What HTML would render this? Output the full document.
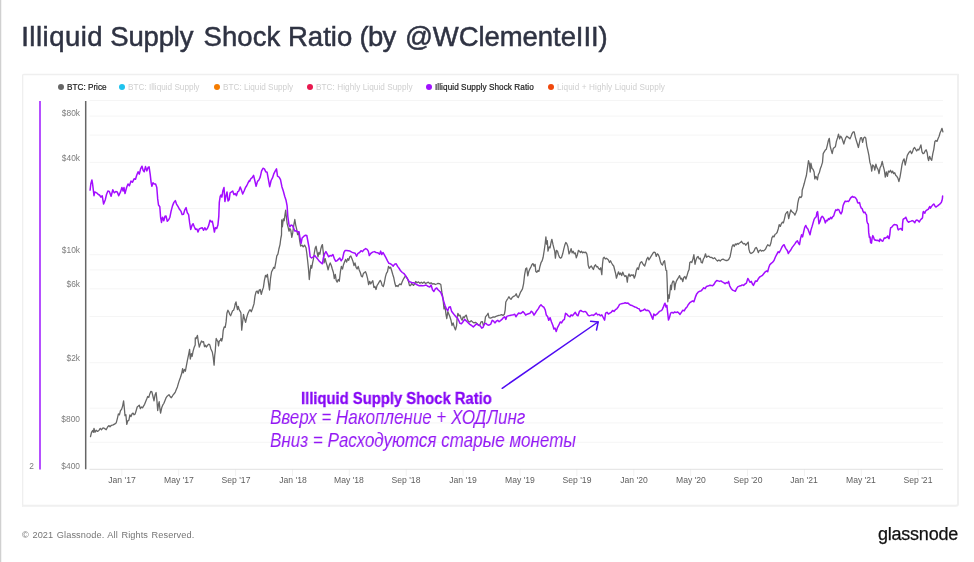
<!DOCTYPE html>
<html><head><meta charset="utf-8"><title>Illiquid Supply Shock Ratio</title>
<style>
html,body{margin:0;padding:0;background:#fff;}
body{width:974px;height:562px;position:relative;overflow:hidden;font-family:"Liberation Sans",sans-serif;}
.edge{position:absolute;left:0;top:0;width:2px;height:562px;background:linear-gradient(to right,#d0d0d0 0,#d0d0d0 1px,#f3f3f3 1px,#f3f3f3 2px);}
.title{position:absolute;left:22px;top:17px;font-size:27.5px;line-height:40px;color:#2f3343;white-space:nowrap;-webkit-text-stroke:0.5px #2f3343;}
.title span{position:absolute;top:0;}
.legend span{position:absolute;top:81.5px;font-size:8.2px;line-height:11px;white-space:nowrap;color:#cfcfcf;}
.legend span.on{color:#222;-webkit-text-stroke:0.2px #222;}
.legend i{position:absolute;top:84px;width:6px;height:6px;border-radius:50%;}
.yl{position:absolute;font-size:8.4px;line-height:10px;color:#7c7c7c;text-align:right;width:40px;left:39.8px;}
.xl{position:absolute;font-size:8.6px;line-height:10px;color:#5e5e5e;text-align:center;width:50px;top:474.9px;white-space:nowrap;}
.foot{position:absolute;left:22px;top:528.8px;font-size:9.2px;line-height:12px;color:#757575;letter-spacing:0.1px;word-spacing:0.9px;white-space:nowrap;}
.logo{position:absolute;left:878px;top:523.5px;font-size:18px;line-height:20px;color:#111;letter-spacing:-0.23px;white-space:nowrap;-webkit-text-stroke:0.25px #111;}
.a1{position:absolute;left:300.7px;top:388.9px;font-size:16px;line-height:20px;font-weight:bold;color:#8505f5;-webkit-text-stroke:0.3px #8505f5;white-space:nowrap;transform-origin:left top;transform:scaleX(0.925);}
.a2,.a3{position:absolute;left:270.2px;font-size:21px;line-height:24px;font-style:italic;color:#9317f4;white-space:nowrap;transform-origin:left top;}
.a2{top:404.65px;transform:scaleX(0.8085);} .a3{top:428px;transform:scaleX(0.811);}
svg{position:absolute;left:0;top:0;}
.title,.legend span,.yl,.xl,.foot,.logo,.a1,.a2,.a3{will-change:transform;}
</style></head><body>
<div class="edge"></div>
<div class="title"><span style="left:-0.8px;letter-spacing:0.5px">Illiquid</span><span style="left:88.3px;letter-spacing:-0.2px">Supply</span><span style="left:181.5px;letter-spacing:0.1px">Shock</span><span style="left:266px;letter-spacing:0px">Ratio</span><span style="left:337.5px;letter-spacing:-0.7px">(by</span><span style="left:383px;letter-spacing:-0.07px">@WClementeIII)</span></div>
<div class="legend">
<i style="left:57.7px;background:#666"></i><span class="on" style="left:66.7px">BTC: Price</span>
<i style="left:119.2px;background:#1ec3ee"></i><span style="left:128.3px">BTC: Illiquid Supply</span>
<i style="left:214.2px;background:#f57c00"></i><span style="left:223.3px">BTC: Liquid Supply</span>
<i style="left:307.2px;background:#e8194f"></i><span style="left:316.3px;letter-spacing:0.06px">BTC: Highly Liquid Supply</span>
<i style="left:426.2px;background:#a011ff"></i><span class="on" style="left:435.3px;letter-spacing:0.07px">Illiquid Supply Shock Ratio</span>
<i style="left:547.7px;background:#f0480c"></i><span style="left:557px;letter-spacing:0.09px">Liquid + Highly Liquid Supply</span>
</div>
<svg width="974" height="562" viewBox="0 0 974 562" fill="none">
<path d="M22.65 506.5 L22.65 75.5 Q22.65 74.5 23.65 74.5 L958.5 74.5" stroke="#efefef" stroke-width="1.3"/>
<path d="M958 74 L958 503.75 Q958 505.75 956 505.75 L22 505.75" stroke="#f0f0f0" stroke-width="2"/>
<g stroke="#f5f5f5" stroke-width="1">
<line x1="89.5" x2="943" y1="100.5" y2="100.5"/>
<line x1="89.5" x2="943" y1="116.1" y2="116.1"/><line x1="89.5" x2="943" y1="135.1" y2="135.1"/><line x1="89.5" x2="943" y1="162.4" y2="162.4"/><line x1="89.5" x2="943" y1="208.5" y2="208.5"/><line x1="89.5" x2="943" y1="254.7" y2="254.7"/><line x1="89.5" x2="943" y1="269.9" y2="269.9"/><line x1="89.5" x2="943" y1="288.8" y2="288.8"/><line x1="89.5" x2="943" y1="316.5" y2="316.5"/><line x1="89.5" x2="943" y1="362.7" y2="362.7"/><line x1="89.5" x2="943" y1="408.2" y2="408.2"/><line x1="89.5" x2="943" y1="422.9" y2="422.9"/><line x1="89.5" x2="943" y1="442.3" y2="442.3"/>
</g>
<g stroke="#f1f1f1" stroke-width="1">
<line x1="121.8" x2="121.8" y1="469" y2="476"/><line x1="178.7" x2="178.7" y1="469" y2="476"/><line x1="235.6" x2="235.6" y1="469" y2="476"/><line x1="292.5" x2="292.5" y1="469" y2="476"/><line x1="349.3" x2="349.3" y1="469" y2="476"/><line x1="406.2" x2="406.2" y1="469" y2="476"/><line x1="463.1" x2="463.1" y1="469" y2="476"/><line x1="520.0" x2="520.0" y1="469" y2="476"/><line x1="576.9" x2="576.9" y1="469" y2="476"/><line x1="633.8" x2="633.8" y1="469" y2="476"/><line x1="690.7" x2="690.7" y1="469" y2="476"/><line x1="747.5" x2="747.5" y1="469" y2="476"/><line x1="804.4" x2="804.4" y1="469" y2="476"/><line x1="861.3" x2="861.3" y1="469" y2="476"/><line x1="918.2" x2="918.2" y1="469" y2="476"/>
</g>
<line x1="89.5" x2="943" y1="469.3" y2="469.3" stroke="#e2e2e2" stroke-width="1"/>
<line x1="40" x2="40" y1="101" y2="469.5" stroke="#b247ff" stroke-width="1.9"/>
<line x1="85.7" x2="85.7" y1="101" y2="469.3" stroke="#666" stroke-width="1.5"/>
<path d="M90.5 436.6 L91.5 432.3 L92.6 430.5 L93.3 432.3 L94.0 428.4 L95.0 432.3 L96.1 430.2 L97.5 431.4 L98.9 430.5 L100.2 428.4 L101.6 429.7 L103.0 427.9 L104.4 428.4 L106.2 429.7 L107.6 427.0 L108.8 425.6 L110.0 426.7 L111.4 425.3 L113.2 424.9 L114.9 423.9 L116.3 422.7 L117.4 418.3 L118.4 413.9 L119.4 414.8 L120.5 410.5 L121.5 409.6 L122.6 406.1 L123.6 400.9 L124.3 407.8 L125.0 415.7 L125.9 414.8 L126.8 424.4 L127.8 420.9 L128.9 420.1 L129.9 414.8 L131.0 416.6 L132.0 413.9 L133.1 413.1 L134.1 414.8 L135.2 413.9 L136.2 410.5 L137.2 407.0 L138.3 406.1 L139.3 405.2 L140.4 408.7 L141.4 407.0 L142.5 407.8 L143.5 406.1 L144.6 404.3 L145.6 401.7 L146.7 399.1 L147.7 396.5 L148.8 397.4 L149.8 393.9 L150.9 391.3 L151.9 391.8 L153.0 396.5 L154.0 400.9 L155.1 394.7 L156.1 392.5 L156.8 399.1 L157.7 410.5 L158.5 404.3 L159.2 401.7 L159.9 408.7 L160.6 413.1 L161.7 407.8 L162.7 405.2 L163.8 403.5 L164.8 400.9 L165.9 398.2 L166.9 396.5 L168.0 395.6 L169.0 394.7 L170.1 396.5 L171.1 397.7 L172.2 396.5 L173.2 394.7 L174.3 393.5 L175.3 392.1 L176.3 389.5 L177.4 386.9 L178.4 383.4 L179.5 379.9 L180.5 377.3 L181.6 373.8 L182.6 368.6 L183.3 372.9 L184.4 369.4 L185.4 371.2 L186.5 365.1 L187.5 359.8 L188.6 354.6 L189.6 349.4 L190.3 359.0 L191.4 353.7 L192.1 356.3 L193.1 351.1 L194.1 347.6 L195.2 345.0 L195.3 337.9 L196.2 338.5 L197.4 335.4 L198.3 341.6 L199.3 347.1 L200.3 344.1 L201.5 341.0 L202.5 342.2 L203.5 341.6 L204.5 346.5 L205.5 345.3 L206.3 347.1 L207.6 345.3 L208.7 344.1 L209.7 344.7 L210.9 349.0 L212.3 352.0 L213.2 357.2 L214.1 365.1 L214.7 355.5 L215.3 350.8 L215.8 342.8 L216.2 338.5 L217.1 340.4 L218.0 341.6 L218.5 345.9 L219.3 341.0 L220.3 340.4 L221.0 338.5 L221.7 341.0 L222.5 337.9 L223.2 330.5 L224.2 326.8 L225.2 327.4 L226.1 321.9 L226.9 313.3 L227.9 310.2 L228.9 312.0 L229.8 314.5 L230.6 315.7 L231.6 313.3 L232.6 310.8 L233.6 310.2 L234.6 307.1 L235.3 303.4 L236.0 301.9 L236.8 306.5 L237.5 309.6 L238.3 306.5 L239.0 309.0 L239.7 310.8 L240.0 310.9 L240.9 312.7 L241.7 330.1 L242.6 322.3 L243.5 314.4 L244.5 318.8 L245.6 322.3 L246.6 317.9 L247.9 313.5 L249.1 310.9 L250.1 309.7 L251.3 311.8 L252.6 308.3 L254.0 303.9 L255.0 296.1 L256.1 291.7 L257.1 290.9 L258.2 293.5 L259.2 290.0 L260.2 289.5 L261.3 294.3 L262.3 290.5 L263.4 287.4 L264.4 280.4 L265.5 275.5 L266.5 276.9 L267.4 274.3 L268.4 282.1 L269.5 290.0 L270.5 278.6 L271.6 271.7 L272.6 269.9 L273.7 267.3 L274.7 268.2 L275.8 262.1 L276.8 255.9 L277.9 254.2 L278.9 249.0 L280.0 244.6 L280.8 238.5 L281.5 235.0 L281.7 219.8 L282.4 226.8 L283.3 218.9 L284.2 220.7 L285.0 214.6 L285.7 210.2 L286.4 217.2 L287.1 223.3 L288.2 227.7 L289.0 231.2 L289.9 228.5 L290.8 230.3 L291.8 237.3 L292.7 232.9 L293.8 225.1 L294.8 219.5 L295.7 225.1 L296.7 229.4 L297.6 234.7 L298.6 232.0 L299.7 240.8 L300.6 246.0 L302.0 245.1 L303.2 246.9 L304.6 245.1 L306.0 247.7 L306.7 252.5 L307.7 261.2 L308.6 269.9 L309.3 279.5 L310.0 272.5 L310.9 265.5 L311.7 268.2 L312.6 262.9 L313.5 258.6 L314.4 252.5 L315.2 248.1 L316.1 246.3 L317.0 251.6 L318.0 256.8 L318.9 252.5 L319.9 254.2 L320.8 249.0 L321.7 245.8 L322.4 244.6 L323.3 252.5 L324.1 262.9 L325.2 258.6 L326.0 262.1 L327.1 265.5 L328.1 269.9 L329.2 265.5 L330.2 262.9 L331.3 265.5 L332.3 269.0 L333.4 272.5 L334.3 278.6 L335.3 274.3 L336.2 280.4 L337.2 282.1 L338.3 279.5 L339.3 281.3 L340.4 271.7 L341.4 266.4 L342.5 269.0 L343.5 264.7 L344.5 262.1 L345.6 259.4 L346.6 262.1 L347.7 258.6 L348.7 260.3 L349.8 256.8 L350.8 255.9 L351.9 258.6 L352.9 261.2 L354.0 265.5 L355.0 262.9 L356.1 267.3 L357.1 269.0 L358.2 266.4 L359.2 269.9 L360.3 272.5 L361.3 276.0 L362.4 276.9 L363.4 273.4 L364.4 272.5 L365.5 271.7 L366.5 274.3 L367.6 278.6 L368.6 284.7 L369.7 281.3 L370.7 283.9 L371.8 282.1 L372.8 280.7 L373.9 287.4 L374.9 286.5 L376.0 289.5 L377.0 285.6 L378.1 283.9 L379.1 282.1 L380.2 280.4 L381.2 282.1 L382.2 285.6 L383.3 286.5 L384.3 283.0 L385.4 276.9 L386.4 273.4 L387.5 271.7 L388.5 266.4 L389.6 268.2 L390.6 267.3 L391.7 270.8 L392.7 274.3 L393.8 277.8 L394.8 283.0 L395.9 286.5 L396.9 285.6 L398.0 286.5 L399.0 284.7 L400.1 283.9 L401.1 284.7 L402.1 282.1 L403.2 279.5 L404.2 277.8 L405.3 276.0 L406.3 276.9 L407.4 278.6 L408.4 281.3 L409.5 285.6 L410.5 285.7 L411.5 283.6 L412.6 284.5 L413.6 285.4 L414.7 283.6 L415.7 281.5 L417.1 282.8 L418.5 281.9 L419.9 283.3 L421.3 282.2 L422.7 283.3 L424.1 281.9 L425.5 283.6 L426.9 282.8 L428.3 282.2 L429.7 283.6 L431.1 282.8 L432.5 284.0 L433.9 283.6 L435.3 284.5 L436.7 284.0 L438.0 283.3 L439.4 283.6 L440.8 284.5 L441.9 292.4 L442.9 297.6 L444.0 308.9 L445.0 306.3 L446.1 315.1 L446.8 318.5 L447.8 311.6 L448.9 314.2 L449.9 316.8 L451.0 320.3 L452.0 325.5 L453.1 322.9 L454.1 326.4 L455.5 329.9 L456.6 325.5 L457.2 316.8 L457.9 313.3 L459.0 315.9 L460.0 315.1 L461.1 318.5 L462.1 320.3 L463.2 316.8 L464.2 317.7 L465.3 315.9 L466.3 315.1 L467.4 319.4 L468.4 321.2 L469.8 322.0 L471.2 320.6 L472.6 322.0 L474.0 322.9 L475.4 322.4 L476.8 323.4 L478.2 324.7 L479.6 325.5 L481.0 322.0 L482.4 321.7 L483.4 325.5 L484.5 323.8 L485.5 316.8 L486.9 315.1 L488.1 313.3 L489.0 317.7 L490.4 318.2 L491.8 317.7 L493.2 316.8 L494.6 317.1 L496.0 316.4 L497.4 315.9 L498.8 315.4 L500.2 315.1 L501.6 314.7 L503.0 315.4 L504.4 314.2 L505.2 309.8 L505.8 302.0 L506.8 300.2 L507.9 298.5 L508.9 296.7 L510.0 298.5 L511.0 299.3 L512.1 297.6 L513.1 296.7 L514.1 296.2 L515.2 295.5 L516.2 293.8 L517.3 296.7 L518.3 297.6 L519.4 295.0 L520.4 292.4 L521.5 290.6 L522.5 288.9 L523.6 283.6 L524.6 274.9 L525.7 268.8 L526.7 267.9 L527.8 275.8 L528.8 271.4 L529.9 268.8 L530.9 267.1 L532.0 264.4 L533.0 263.6 L534.0 266.2 L535.1 264.4 L535.8 271.4 L536.8 272.3 L537.9 270.5 L538.9 271.4 L540.0 266.2 L541.0 262.7 L542.1 260.9 L543.1 257.5 L544.2 250.5 L545.2 243.5 L545.9 236.9 L546.6 244.2 L547.3 240.7 L548.0 251.2 L549.1 246.8 L550.1 247.7 L551.2 241.6 L551.9 239.3 L552.9 244.2 L554.0 248.6 L554.7 251.2 L555.4 258.2 L556.4 250.3 L557.5 251.2 L558.5 254.7 L559.5 257.3 L560.6 258.2 L561.6 257.3 L562.7 253.8 L563.7 249.4 L564.8 245.1 L565.8 242.5 L566.9 243.9 L567.9 246.8 L569.0 253.8 L570.0 252.1 L571.1 248.6 L572.1 252.9 L573.2 251.2 L574.2 253.8 L575.3 252.9 L576.3 257.8 L577.4 254.7 L578.4 250.3 L579.4 251.2 L580.5 252.6 L581.5 251.2 L582.6 252.9 L583.6 252.1 L584.7 252.6 L585.7 252.1 L586.8 253.8 L587.5 257.3 L588.2 265.1 L589.2 268.3 L590.3 266.9 L591.3 266.0 L592.4 267.8 L593.4 269.5 L594.5 266.0 L595.5 264.8 L596.6 266.9 L597.6 266.5 L598.6 268.6 L599.7 269.5 L600.7 267.8 L601.8 274.7 L602.5 264.3 L603.2 258.2 L604.2 257.3 L605.3 259.0 L606.3 258.2 L607.4 259.0 L608.4 259.9 L609.5 262.5 L610.5 260.8 L611.6 263.0 L612.6 264.8 L613.7 266.0 L614.7 270.0 L615.7 273.9 L616.4 278.2 L617.5 274.7 L618.5 271.8 L619.6 274.7 L620.6 273.0 L621.7 275.6 L622.7 272.1 L623.8 274.7 L624.8 276.5 L625.9 275.6 L626.6 277.4 L627.3 282.2 L628.0 276.5 L629.0 273.9 L630.1 276.5 L631.1 274.7 L632.2 275.6 L633.2 274.7 L634.3 278.2 L635.3 275.6 L636.3 270.4 L637.4 267.8 L638.4 269.5 L639.5 265.1 L640.5 262.5 L641.6 261.7 L642.6 263.4 L643.7 265.1 L644.7 266.0 L645.8 262.5 L646.8 259.0 L647.9 257.3 L648.9 259.9 L650.0 258.2 L651.0 256.4 L652.1 254.7 L653.1 252.9 L654.1 252.1 L655.2 252.6 L656.2 256.4 L657.3 253.8 L658.3 254.7 L659.4 257.3 L660.4 261.7 L661.5 264.3 L662.5 265.1 L663.6 261.7 L664.6 260.8 L665.3 266.0 L666.0 270.4 L666.7 270.7 L667.2 282.6 L667.8 301.8 L668.5 294.8 L669.2 298.3 L669.9 292.2 L670.6 285.2 L671.3 289.6 L672.0 283.5 L673.0 280.9 L674.0 281.7 L674.7 289.6 L675.4 284.3 L676.5 280.9 L677.5 279.1 L678.6 277.4 L679.6 275.6 L680.7 279.1 L681.7 278.2 L682.8 281.7 L683.8 277.4 L684.9 276.5 L685.9 279.1 L687.0 275.6 L688.0 272.1 L689.1 269.5 L689.8 262.5 L690.8 261.7 L691.8 262.5 L692.9 259.0 L693.9 254.7 L695.0 264.3 L696.0 259.9 L697.1 257.3 L698.1 256.4 L699.2 259.0 L700.2 258.2 L701.3 262.5 L702.3 263.0 L703.4 259.0 L704.4 257.3 L705.5 253.8 L706.5 257.3 L707.6 256.4 L708.6 256.1 L710.0 257.3 L711.9 257.5 L713.3 258.7 L714.7 257.8 L716.1 259.6 L717.5 261.0 L718.9 259.9 L720.2 261.0 L721.6 259.6 L723.0 259.2 L724.4 259.9 L725.8 260.5 L727.2 260.5 L728.6 259.6 L730.0 257.0 L731.1 251.7 L732.1 246.5 L733.2 244.7 L734.2 246.5 L735.3 243.9 L736.3 244.7 L737.4 243.5 L738.4 244.2 L739.4 243.0 L740.5 242.5 L741.5 241.3 L742.6 243.0 L743.6 243.9 L744.7 243.5 L745.7 245.3 L746.8 243.9 L748.2 242.1 L748.9 249.1 L749.9 252.6 L751.0 253.5 L752.0 252.9 L753.1 252.2 L754.1 250.9 L755.2 248.2 L756.2 247.4 L757.2 249.1 L758.3 252.6 L759.3 250.5 L760.4 250.0 L761.4 251.2 L762.5 250.5 L763.5 250.9 L764.6 250.0 L765.6 249.1 L766.7 246.5 L767.7 244.7 L768.8 245.6 L769.8 246.0 L770.9 243.0 L771.9 237.8 L773.0 236.0 L774.0 236.9 L775.1 234.3 L776.1 233.7 L777.1 232.5 L778.2 229.0 L779.2 224.7 L780.3 226.4 L781.3 223.8 L782.4 222.1 L783.4 222.9 L784.5 218.6 L785.5 214.2 L786.6 212.5 L787.6 211.6 L788.7 218.6 L789.7 214.2 L790.8 209.8 L791.8 211.6 L792.9 212.5 L793.9 213.3 L794.9 215.1 L796.0 212.5 L797.0 209.8 L797.7 203.7 L798.8 198.5 L799.8 196.7 L800.9 197.6 L801.9 195.9 L802.2 190.3 L803.3 186.8 L804.3 183.3 L805.4 178.9 L806.4 175.5 L807.5 167.6 L808.5 160.6 L809.5 164.1 L810.2 172.0 L810.9 163.2 L812.0 168.5 L813.0 169.3 L814.1 172.0 L814.8 178.9 L815.8 176.3 L816.5 177.2 L817.4 179.8 L818.3 174.6 L819.3 172.8 L820.4 168.5 L821.4 165.9 L822.5 162.4 L823.2 153.6 L824.2 151.9 L825.3 150.1 L826.3 149.3 L827.4 144.9 L828.4 140.5 L829.3 138.3 L830.1 145.8 L831.2 150.1 L832.2 153.6 L833.3 148.4 L834.3 147.5 L835.4 146.7 L836.4 141.4 L837.5 137.9 L838.5 134.1 L839.6 138.8 L840.6 136.2 L841.7 137.6 L842.7 140.5 L843.8 144.0 L844.8 140.5 L845.9 137.6 L846.9 136.2 L847.9 137.1 L849.0 137.9 L850.0 138.8 L851.1 136.2 L852.1 133.6 L853.2 131.8 L854.2 131.8 L855.3 137.1 L856.3 140.5 L857.4 144.0 L858.4 147.5 L859.5 142.3 L860.5 137.9 L861.6 137.6 L862.6 142.3 L863.7 137.9 L864.7 137.1 L865.7 137.9 L866.8 145.8 L867.8 150.1 L868.9 155.4 L869.9 162.4 L871.0 165.9 L871.7 171.1 L872.7 165.0 L873.8 165.9 L874.8 170.2 L875.9 164.1 L876.9 167.6 L878.0 169.3 L879.0 173.7 L880.1 167.6 L881.1 165.9 L882.2 161.5 L883.2 165.9 L884.3 170.2 L885.3 177.2 L886.3 172.0 L887.4 176.3 L888.4 171.1 L889.5 172.0 L890.5 170.2 L891.6 172.8 L892.6 171.1 L893.7 173.7 L894.7 172.8 L895.8 175.5 L896.8 176.3 L897.9 178.1 L898.9 181.6 L900.0 177.2 L901.0 171.1 L902.1 164.1 L903.1 160.6 L904.1 158.9 L905.2 165.0 L906.2 160.6 L907.3 155.4 L908.3 153.6 L909.4 151.9 L910.4 151.0 L911.5 153.6 L912.5 151.9 L913.6 148.4 L914.6 147.5 L915.7 149.3 L916.7 151.0 L917.8 149.3 L918.8 150.1 L919.9 147.5 L920.9 144.9 L922.0 151.9 L923.0 153.6 L924.0 153.3 L925.1 151.0 L926.1 149.8 L927.2 152.8 L927.9 158.0 L928.6 160.6 L929.6 156.3 L930.7 158.9 L931.7 160.3 L932.8 153.6 L933.8 149.3 L934.9 141.4 L935.9 140.5 L937.0 141.4 L938.0 138.8 L939.1 136.2 L940.1 132.7 L941.1 130.6 L942.0 128.3 L942.9 131.8" stroke="#666" stroke-width="1.3" stroke-linejoin="round" stroke-linecap="round"/>
<path d="M90.1 190.1 L90.8 184.0 L91.9 180.0 L92.6 184.0 L94.0 195.7 L94.8 191.9 L96.6 192.8 L98.3 194.5 L99.5 195.0 L100.9 197.1 L102.2 195.7 L103.6 204.1 L105.3 199.7 L106.5 194.5 L107.9 191.0 L109.3 191.5 L111.1 196.3 L112.8 189.8 L114.2 192.8 L115.8 191.5 L117.2 191.9 L118.7 195.7 L120.5 191.9 L121.9 187.5 L123.1 191.0 L124.0 187.5 L125.0 193.6 L126.6 187.5 L128.0 184.0 L129.4 185.8 L131.0 181.1 L132.4 182.3 L134.1 178.8 L135.5 179.3 L136.7 175.3 L138.1 171.8 L139.3 174.1 L140.6 168.9 L142.0 166.2 L143.2 170.6 L144.2 171.8 L145.5 166.6 L146.8 170.9 L148.1 167.5 L149.1 166.9 L150.2 174.4 L151.2 183.2 L151.9 186.3 L153.0 182.8 L154.2 184.0 L155.6 184.0 L156.8 187.5 L157.7 198.9 L158.5 205.0 L159.8 206.7 L160.6 217.2 L161.5 222.4 L162.6 217.2 L163.8 220.7 L165.0 216.3 L166.0 216.0 L167.3 221.2 L168.7 219.8 L169.9 217.2 L171.1 211.1 L172.5 205.9 L173.9 202.4 L175.3 200.6 L176.5 204.1 L178.1 206.7 L179.5 209.3 L180.9 211.1 L182.1 214.6 L183.5 214.2 L184.7 210.2 L186.1 207.6 L187.3 212.8 L188.6 214.6 L189.6 222.4 L190.7 229.4 L192.1 225.1 L193.1 223.7 L194.3 226.8 L195.5 229.4 L196.9 228.9 L198.0 232.0 L199.2 228.9 L200.8 228.2 L202.2 227.7 L203.6 230.3 L204.8 227.7 L206.0 229.9 L207.4 228.5 L208.8 225.1 L210.0 220.3 L211.3 221.9 L212.3 221.2 L213.5 226.8 L214.4 232.0 L215.4 227.7 L216.7 228.5 L217.9 225.1 L218.8 216.3 L219.3 202.4 L220.2 196.3 L221.0 195.0 L221.9 197.1 L222.8 191.0 L224.0 187.5 L224.9 201.5 L225.9 196.3 L227.0 191.9 L228.0 201.0 L229.2 199.7 L230.1 192.8 L231.5 191.9 L232.7 191.0 L233.9 194.5 L235.3 193.6 L236.4 195.7 L237.6 191.9 L238.8 191.0 L240.2 187.0 L241.4 190.1 L242.7 194.0 L244.1 191.0 L245.5 187.5 L246.7 185.8 L247.9 183.2 L249.3 180.5 L249.6 181.4 L250.8 178.8 L252.2 177.6 L253.6 175.3 L254.8 180.5 L256.1 186.3 L257.5 181.4 L258.9 180.0 L260.2 177.1 L261.6 170.9 L263.0 168.3 L264.4 168.9 L265.8 171.8 L267.1 172.3 L268.3 178.8 L269.7 186.7 L271.1 180.5 L272.5 177.9 L273.9 173.6 L275.3 170.9 L276.5 168.9 L277.5 176.2 L279.1 177.1 L280.5 179.7 L281.9 186.7 L283.3 191.0 L284.7 196.3 L286.1 200.6 L287.1 205.9 L287.8 216.3 L288.9 224.2 L289.9 226.8 L291.0 225.1 L292.4 225.4 L293.8 228.5 L295.0 231.2 L296.2 230.6 L297.6 232.0 L299.0 231.7 L300.2 239.0 L301.1 243.4 L302.1 238.1 L303.7 236.4 L305.5 235.2 L306.8 235.5 L308.1 242.5 L309.1 247.7 L310.2 256.8 L311.6 258.0 L313.3 256.8 L314.7 255.6 L316.1 257.3 L317.7 259.1 L319.4 261.2 L321.2 262.9 L322.4 263.8 L323.4 257.7 L324.8 253.3 L325.9 251.6 L327.3 254.2 L328.7 256.8 L330.1 255.6 L331.5 255.9 L332.9 254.5 L334.3 258.6 L335.6 261.2 L337.0 260.8 L338.4 259.4 L339.8 258.0 L341.2 260.8 L342.6 258.6 L343.9 252.5 L345.2 250.4 L346.8 250.4 L348.2 250.7 L350.0 251.1 L351.7 252.1 L353.4 252.8 L355.2 253.3 L356.6 256.3 L358.0 253.3 L359.6 252.5 L361.0 250.7 L362.5 251.6 L363.9 249.8 L365.7 248.6 L367.1 249.3 L368.3 251.1 L369.3 255.6 L370.9 253.3 L372.6 252.1 L374.4 251.6 L376.1 252.5 L377.9 252.8 L379.6 254.2 L380.7 251.1 L381.7 254.5 L383.1 252.5 L384.5 255.1 L385.9 257.7 L387.5 260.8 L388.9 263.3 L390.5 263.8 L391.8 264.7 L393.2 266.1 L394.6 264.3 L396.2 263.8 L397.6 266.4 L399.2 268.5 L400.6 270.8 L402.3 272.5 L404.1 273.7 L405.8 276.0 L407.2 278.3 L408.6 280.7 L410.0 282.1 L410.5 281.9 L412.2 282.8 L414.0 282.8 L415.7 284.0 L417.5 285.0 L419.2 285.7 L420.9 285.4 L422.7 285.7 L424.4 285.4 L426.2 285.0 L427.9 286.3 L429.7 287.1 L431.1 285.0 L432.5 289.7 L433.9 291.5 L435.3 288.9 L436.7 288.0 L438.0 289.7 L439.4 291.0 L440.8 292.4 L442.2 295.9 L443.6 301.1 L445.0 305.5 L446.4 308.9 L447.8 310.7 L448.9 307.2 L450.3 306.8 L451.7 311.6 L453.1 313.3 L454.5 315.1 L455.9 316.8 L457.2 317.7 L458.6 320.3 L460.0 323.4 L461.4 323.8 L462.8 322.0 L464.6 319.4 L466.0 320.6 L467.4 322.0 L468.8 323.4 L470.2 324.7 L471.6 325.5 L473.3 326.9 L475.1 325.2 L476.8 323.8 L478.5 325.2 L480.3 325.9 L481.7 328.1 L483.1 327.3 L484.5 323.8 L485.9 323.4 L487.3 324.7 L489.0 325.2 L490.8 324.1 L492.2 320.3 L493.6 321.2 L494.9 322.9 L496.3 321.2 L497.7 320.3 L499.1 321.7 L500.5 320.6 L501.9 319.4 L503.3 317.7 L504.7 316.8 L505.8 319.4 L506.8 316.4 L508.2 315.9 L510.0 315.4 L511.7 315.1 L513.4 314.7 L514.8 314.2 L515.9 316.8 L517.3 314.7 L518.7 313.0 L520.1 313.7 L521.5 313.0 L522.9 311.6 L524.3 313.0 L525.7 315.1 L527.1 314.2 L528.5 313.7 L529.9 313.3 L531.3 311.2 L532.6 312.4 L534.0 315.1 L535.4 313.0 L536.8 310.7 L538.2 308.9 L539.6 306.3 L541.0 304.9 L542.4 306.3 L543.8 307.2 L545.2 309.8 L546.3 315.1 L547.7 316.8 L548.7 320.3 L550.1 317.7 L551.5 322.0 L552.9 325.5 L553.9 329.0 L555.0 328.1 L556.2 331.6 L557.6 327.3 L558.8 325.2 L560.2 322.0 L561.6 322.9 L563.0 320.3 L564.4 319.4 L565.5 313.3 L566.9 314.2 L568.3 315.9 L570.0 316.8 L571.1 314.9 L572.5 315.8 L573.9 314.0 L575.3 312.3 L576.7 314.9 L578.0 315.8 L579.4 311.4 L580.8 310.5 L582.2 311.4 L583.6 311.9 L585.0 311.4 L586.4 312.3 L587.8 314.9 L589.2 315.8 L590.6 315.4 L592.0 314.9 L593.4 315.4 L594.8 314.4 L596.2 313.1 L597.6 314.9 L599.0 314.4 L600.4 315.8 L601.8 314.9 L603.2 317.5 L604.6 320.1 L605.6 313.1 L607.0 312.3 L608.4 314.0 L609.8 313.1 L611.2 312.3 L612.6 310.5 L614.0 311.4 L615.4 309.7 L616.8 308.8 L618.2 307.0 L619.6 304.4 L621.0 303.9 L622.4 303.5 L623.8 303.2 L625.2 302.8 L626.6 303.2 L628.0 303.0 L629.4 304.4 L630.8 305.3 L632.2 305.6 L633.6 306.3 L634.9 307.0 L636.3 307.4 L637.7 308.4 L639.1 308.8 L640.5 311.4 L641.9 310.5 L643.3 310.2 L644.7 309.1 L646.1 310.5 L647.5 310.2 L648.9 310.9 L650.3 313.1 L651.7 316.6 L652.8 319.3 L653.8 314.0 L655.2 315.4 L656.6 314.4 L658.0 313.1 L659.4 311.4 L660.8 310.9 L662.2 309.7 L663.2 307.4 L664.3 304.4 L665.0 303.2 L666.0 307.0 L666.9 305.3 L667.6 312.3 L668.5 320.1 L669.5 317.5 L670.6 313.1 L672.0 312.3 L673.3 313.1 L674.7 311.9 L676.1 312.6 L677.5 311.9 L678.9 313.1 L680.0 314.4 L681.4 312.3 L682.8 310.2 L684.2 310.9 L685.6 308.4 L687.0 307.0 L688.4 304.4 L689.8 302.7 L691.1 301.8 L692.5 300.9 L693.9 301.8 L695.3 297.4 L696.7 293.9 L698.1 292.2 L699.5 291.3 L700.9 291.0 L702.3 289.6 L703.7 287.8 L705.1 288.7 L706.5 286.4 L707.9 286.1 L710.0 285.2 L711.2 285.4 L712.6 285.8 L714.0 284.4 L715.4 281.9 L716.8 280.5 L718.2 280.9 L719.5 281.4 L720.9 280.9 L722.3 281.9 L723.7 282.6 L725.1 283.7 L726.5 282.6 L727.6 283.1 L728.6 281.4 L729.7 285.8 L731.1 288.4 L732.5 290.1 L733.9 290.6 L735.3 291.3 L736.7 288.4 L738.0 286.6 L739.4 286.1 L740.8 285.8 L742.2 284.9 L743.6 285.4 L745.0 284.0 L746.4 283.1 L747.8 278.4 L748.9 280.2 L749.9 282.3 L751.3 281.4 L752.4 284.0 L753.4 285.4 L754.5 283.1 L755.5 280.9 L756.9 281.4 L758.3 278.8 L759.7 277.0 L761.1 276.2 L762.5 275.3 L763.9 273.5 L765.3 271.8 L766.7 270.9 L767.7 271.8 L768.8 267.4 L769.8 264.8 L771.2 263.4 L772.6 262.2 L774.0 260.5 L775.4 257.0 L776.8 254.3 L778.2 251.7 L779.2 252.6 L780.6 250.0 L782.0 247.0 L783.1 245.3 L784.1 244.7 L785.2 247.4 L786.2 249.1 L787.3 250.5 L788.3 253.5 L789.4 251.7 L790.8 250.0 L792.2 247.4 L793.6 245.6 L794.9 243.9 L796.0 242.1 L797.4 240.7 L798.4 243.0 L799.5 244.7 L800.5 238.6 L801.6 234.8 L802.6 236.9 L803.7 231.7 L804.7 227.3 L805.8 225.5 L806.8 227.8 L807.9 229.0 L808.9 231.7 L810.0 234.8 L811.0 229.9 L812.1 226.4 L813.1 222.9 L814.1 219.4 L815.2 217.7 L816.2 216.8 L816.9 212.5 L817.6 211.6 L818.3 217.7 L819.0 223.8 L820.1 221.2 L821.1 217.7 L822.2 216.3 L823.2 217.3 L824.3 219.4 L825.3 222.9 L826.4 220.3 L827.4 220.8 L828.5 218.6 L829.5 219.4 L830.6 217.3 L831.6 218.6 L832.6 216.8 L833.7 215.9 L834.7 212.5 L835.8 209.8 L836.8 210.4 L837.9 209.3 L838.9 209.8 L840.0 212.5 L841.0 213.9 L842.1 211.6 L843.1 205.5 L844.2 202.9 L845.2 201.1 L846.3 201.6 L847.3 201.1 L848.4 201.6 L849.4 200.2 L850.5 198.1 L851.5 197.1 L852.5 196.4 L853.2 197.2 L854.1 196.9 L855.0 197.4 L855.9 198.3 L856.8 199.7 L857.7 202.8 L858.6 203.1 L859.5 202.5 L860.4 205.9 L861.3 208.2 L862.2 208.7 L863.1 211.5 L864.0 212.7 L864.9 212.1 L865.8 213.8 L866.5 214.9 L866.9 221.1 L867.6 223.4 L868.3 224.0 L868.7 232.4 L869.4 237.5 L870.1 237.0 L870.6 242.6 L871.5 243.2 L872.1 238.1 L872.8 235.6 L873.5 237.0 L874.2 239.2 L875.1 240.3 L876.0 240.1 L876.9 240.6 L877.8 240.3 L878.7 240.6 L879.4 241.5 L880.0 239.0 L880.9 239.8 L881.8 240.9 L882.8 241.2 L883.7 239.2 L884.3 237.9 L885.2 238.3 L886.1 237.5 L887.0 237.2 L887.7 236.0 L888.4 238.1 L889.1 238.6 L889.8 234.7 L890.2 230.2 L890.7 227.7 L891.6 227.4 L892.5 226.2 L893.4 225.1 L894.3 224.5 L895.2 224.8 L896.3 224.8 L897.2 225.4 L897.7 228.5 L898.3 229.9 L899.2 229.0 L900.1 228.8 L901.0 228.5 L901.7 229.6 L902.3 230.2 L902.6 223.4 L903.1 219.4 L904.0 218.7 L904.9 218.3 L905.8 217.2 L906.5 218.9 L907.1 220.6 L907.8 221.4 L908.5 222.3 L909.4 221.7 L910.3 221.4 L911.2 221.1 L912.1 220.6 L913.0 220.9 L913.9 221.7 L914.8 222.8 L915.5 221.1 L916.2 220.2 L917.1 220.0 L918.0 220.6 L918.7 221.4 L919.3 222.0 L920.0 220.6 L920.9 219.4 L921.8 218.7 L922.5 217.8 L923.0 212.7 L923.4 211.5 L924.1 212.7 L924.8 213.2 L925.4 211.5 L926.3 210.4 L927.2 209.8 L928.2 209.3 L929.1 207.6 L929.7 206.5 L930.4 208.2 L931.1 207.0 L932.0 205.9 L932.9 204.8 L933.8 204.0 L934.5 205.1 L935.2 206.5 L935.8 207.0 L936.7 206.5 L937.6 205.9 L938.5 205.1 L939.4 204.4 L940.3 203.6 L941.3 202.5 L941.9 200.8 L942.4 198.6 L942.6 196.1" stroke="#a30dff" stroke-width="1.5" stroke-linejoin="round" stroke-linecap="round"/>
<g stroke="#4e0af2" stroke-width="1.5" stroke-linecap="round" stroke-linejoin="round">
<line x1="502.2" y1="388.3" x2="598" y2="322"/>
<polyline points="590.6,321.2 598.2,321.9 596.5,330"/>
</g>
</svg>
<div class="yl" style="top:107.7px">$80k</div><div class="yl" style="top:153.3px">$40k</div><div class="yl" style="top:245.0px">$10k</div><div class="yl" style="top:279.4px">$6k</div><div class="yl" style="top:353.0px">$2k</div><div class="yl" style="top:414.0px">$800</div><div class="yl" style="top:460.8px">$400</div>
<div class="yl" style="left:-6.5px;top:460.8px;">2</div>
<div class="xl" style="left:96.8px">Jan '17</div><div class="xl" style="left:153.7px">May '17</div><div class="xl" style="left:210.6px">Sep '17</div><div class="xl" style="left:267.5px">Jan '18</div><div class="xl" style="left:324.3px">May '18</div><div class="xl" style="left:381.2px">Sep '18</div><div class="xl" style="left:438.1px">Jan '19</div><div class="xl" style="left:495.0px">May '19</div><div class="xl" style="left:551.9px">Sep '19</div><div class="xl" style="left:608.8px">Jan '20</div><div class="xl" style="left:665.7px">May '20</div><div class="xl" style="left:722.5px">Sep '20</div><div class="xl" style="left:779.4px">Jan '21</div><div class="xl" style="left:836.3px">May '21</div><div class="xl" style="left:893.2px">Sep '21</div>
<div class="a1">Illiquid Supply Shock Ratio</div>
<div class="a2">Вверх = Накопление + ХОДЛинг</div>
<div class="a3">Вниз = Расходуются старые монеты</div>
<div class="foot">© 2021 Glassnode. All Rights Reserved.</div>
<div class="logo">glassnode</div>
</body></html>
